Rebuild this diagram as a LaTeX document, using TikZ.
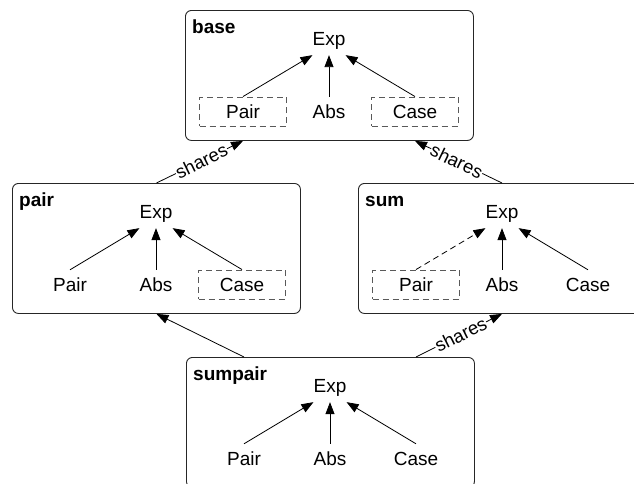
\documentclass[tikz,border=0pt]{standalone}
\usepackage{fontspec}
\setmainfont{Liberation Sans}
\usetikzlibrary{arrows.meta}
\tikzset{
  module/.style={draw=black!85, line width=0.9pt, rounded corners=6pt, minimum width=288pt, minimum height=130pt, inner sep=0pt, anchor=north west},
  title/.style={font=\fontsize{19}{22}\selectfont\bfseries, anchor=base west, inner sep=0pt},
  member/.style={minimum width=87pt, minimum height=29pt, inner sep=0pt, text height=13.5pt, text depth=0pt},
  dashbox/.style={draw=black!65, dash pattern=on 6pt off 4pt, line width=0.9pt},
  expnode/.style={anchor=base, inner xsep=0pt, inner ysep=6pt},
  arr/.style={-{Triangle[length=12pt,width=9pt]}, line width=0.8pt},
  lab/.style={font=\fontsize{18.5}{20}\selectfont, sloped, fill=white, inner sep=0.5pt, pos=0.52}
}
\begin{document}
\begin{tikzpicture}[x=1pt,y=-1pt,font=\fontsize{19}{22}\selectfont]
\useasboundingbox (0,0) rectangle (634,483);
\clip (0,0) rectangle (634,483);
% modules
\node[module] (base) at (185,10) {};
\node[module] (pair) at (12,183) {};
\node[module] (sum) at (358,183) {};
\node[module] (sumpair) at (186,357) {};
% titles
\node[title] (tbase) at ([shift={(7,23)}]base.north west) {base};
\node[title] (tpair) at ([shift={(7,23)}]pair.north west) {pair};
\node[title] (tsum) at ([shift={(7,23)}]sum.north west) {sum};
\node[title] (tsumpair) at ([shift={(7,23)}]sumpair.north west) {sumpair};
% base
\node[expnode] (bExp) at ([shift={(144,35)}]base.north west) {Exp};
\node[member,dashbox] (bPair) at ([shift={(58,101.5)}]base.north west) {Pair};
\node[member] (bAbs) at ([shift={(144,101.5)}]base.north west) {Abs};
\node[member,dashbox] (bCase) at ([shift={(230,101.5)}]base.north west) {Case};
\draw[arr] (bPair.north) -- (bExp.south west);
\draw[arr] (bAbs.north) -- (bExp.south);
\draw[arr] (bCase.north) -- (bExp.south east);
% pair
\node[expnode] (pExp) at ([shift={(144,35)}]pair.north west) {Exp};
\node[member] (pPair) at ([shift={(58,101.5)}]pair.north west) {Pair};
\node[member] (pAbs) at ([shift={(144,101.5)}]pair.north west) {Abs};
\node[member,dashbox] (pCase) at ([shift={(230,101.5)}]pair.north west) {Case};
\draw[arr] (pPair.north) -- (pExp.south west);
\draw[arr] (pAbs.north) -- (pExp.south);
\draw[arr] (pCase.north) -- (pExp.south east);
% sum
\node[expnode] (sExp) at ([shift={(144,35)}]sum.north west) {Exp};
\node[member,dashbox] (sPair) at ([shift={(58,101.5)}]sum.north west) {Pair};
\node[member] (sAbs) at ([shift={(144,101.5)}]sum.north west) {Abs};
\node[member] (sCase) at ([shift={(230,101.5)}]sum.north west) {Case};
\draw[arr,dash pattern=on 6pt off 4pt] (sPair.north) -- (sExp.south west);
\draw[arr] (sAbs.north) -- (sExp.south);
\draw[arr] (sCase.north) -- (sExp.south east);
% sumpair
\node[expnode] (spExp) at ([shift={(144,35)}]sumpair.north west) {Exp};
\node[member] (spPair) at ([shift={(58,101.5)}]sumpair.north west) {Pair};
\node[member] (spAbs) at ([shift={(144,101.5)}]sumpair.north west) {Abs};
\node[member] (spCase) at ([shift={(230,101.5)}]sumpair.north west) {Case};
\draw[arr] (spPair.north) -- (spExp.south west);
\draw[arr] (spAbs.north) -- (spExp.south);
\draw[arr] (spCase.north) -- (spExp.south east);
% module connectors
\draw[arr] (pair.north) -- node[lab] {shares} (base.south -| bPair);
\draw[arr] (sum.north -| sExp) -- node[lab] {shares} (base.south -| bCase);
\draw[arr] (sumpair.north -| spPair) -- (pair.south);
\draw[arr] (sumpair.north -| spCase) -- node[lab] {shares} (sum.south -| sAbs);
\end{tikzpicture}
\end{document}
